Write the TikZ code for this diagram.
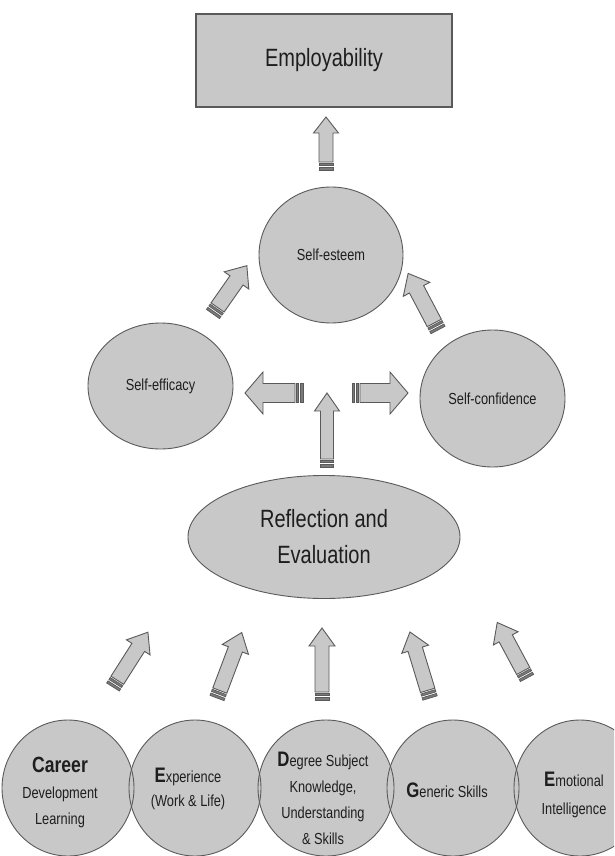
\documentclass[tikz,border=0pt]{standalone}
\usepackage{fontspec}
\setmainfont{Liberation Sans}[FakeStretch=0.8]
\usetikzlibrary{shapes.geometric}
\definecolor{shade}{HTML}{C8C8C8}
\definecolor{edge}{HTML}{5A5A5A}
\definecolor{ink}{HTML}{1E1E1E}
\definecolor{barfill}{HTML}{7A7A7A}
\newcommand{\bigi}{\fontsize{21}{26}\selectfont\bfseries}
\tikzset{
  fa shaft/.store in=\fashaft, fa head/.store in=\fahead, fa hlen/.store in=\fahlen,
  fa shaft=7, fa head=12.5, fa hlen=16,
  fatarrow/.pic={
    \coordinate (-tail) at (0,0);
    \coordinate (-tip) at (#1,0);
    \filldraw[fill=shade,draw=edge,line width=0.9pt,line join=miter]
      (8,-\fashaft) -- ({#1-\fahlen},-\fashaft) -- ({#1-\fahlen},-\fahead) -- (#1,0)
      -- ({#1-\fahlen},\fahead) -- ({#1-\fahlen},\fashaft) -- (8,\fashaft) -- cycle;
    \filldraw[fill=barfill,draw=edge,line width=0.7pt] (0,-\fashaft) rectangle (2.5,\fashaft);
    \filldraw[fill=barfill,draw=edge,line width=0.7pt] (4.2,-\fashaft) rectangle (6.5,\fashaft);
  },
  bubble/.style={ellipse, fill=shade, draw=edge, line width=0.9pt, inner sep=0pt, text=ink, align=center},
  bubblefill/.style={ellipse, fill=shade, inner sep=0pt},
  txt/.style={text=ink, align=center, inner sep=0pt},
}
\begin{document}
\begin{tikzpicture}[x=1pt,y=-1pt]
\useasboundingbox (0,0) rectangle (614,856);
\clip (0,0) rectangle (614,856);
\fill[white] (0,0) rectangle (614,856);

% top box
\node[draw=edge, fill=shade, line width=1.2pt, minimum width=256pt, minimum height=93pt,
      text=ink, font=\fontsize{25}{30}\selectfont] (emp) at (324,60.5) {Employability};

% middle ellipses
\node[bubble, minimum width=144pt, minimum height=136pt, font=\fontsize{16}{20}\selectfont] (esteem) at (331,255) {Self-esteem};
\node[bubble, minimum width=145pt, minimum height=126pt, font=\fontsize{16}{20}\selectfont] (efficacy) at (160.5,386) {Self-efficacy};
\node[bubble, minimum width=145pt, minimum height=137pt, font=\fontsize{16}{20}\selectfont] (confidence) at (492.5,398.5) {Self-confidence};
\node[bubble, minimum width=272pt, minimum height=123pt, font=\fontsize{25}{36}\selectfont] (refl) at (324,537) {Reflection and\\Evaluation};

% block arrows
\pic[rotate=90, fa shaft=7, fa head=12.5, fa hlen=16] (a0) at (326,170) {fatarrow=53};
\pic[rotate=55, fa shaft=8, fa head=15, fa hlen=18] (a1) at (213,314) {fatarrow=59};
\pic[rotate=117.8, fa shaft=8, fa head=15, fa hlen=18] (a2) at (438,330) {fatarrow=64};
\pic[rotate=180, fa shaft=9.5, fa head=21, fa hlen=18] (a3) at (303,393) {fatarrow=58};
\pic[rotate=0, fa shaft=9.5, fa head=21, fa hlen=18] (a4) at (352,393) {fatarrow=56};
\pic[rotate=90, fa shaft=6.5, fa head=12.5, fa hlen=18] (a5) at (327,467) {fatarrow=74};

\pic[rotate=57.5, fa shaft=7.5, fa head=14, fa hlen=18] (b1) at (113,687) {fatarrow=65};
\pic[rotate=69.3, fa shaft=7.5, fa head=14, fa hlen=18] (b2) at (217,698) {fatarrow=70};
\pic[rotate=90, fa shaft=7, fa head=13, fa hlen=18] (b3) at (322,700) {fatarrow=72};
\pic[rotate=106.9, fa shaft=7.5, fa head=14, fa hlen=18] (b4) at (430,698) {fatarrow=69};
\pic[rotate=118.2, fa shaft=7.5, fa head=14, fa hlen=18] (b5) at (527,678) {fatarrow=63};

% bottom circles
\node[bubblefill, minimum width=132pt, minimum height=136pt] (c1) at (68,788) {};
\node[bubblefill, minimum width=132pt, minimum height=136pt] (c2) at (195,788) {};
\node[bubblefill, minimum width=136pt, minimum height=136pt] (c3) at (326,788) {};
\node[bubblefill, minimum width=132pt, minimum height=136pt] (c4) at (453,788) {};
\node[bubblefill, minimum width=132pt, minimum height=136pt] (c5) at (580,788) {};
\foreach \i/\r in {1/66,2/66,3/68,4/66,5/66}
  \draw[draw=edge, line width=0.9pt] (c\i.center) ellipse [x radius=\r pt, y radius=68pt];

\node[txt, font=\fontsize{16}{26}\selectfont] (t1) at (60,792)
  {{\fontsize{22}{26}\selectfont\bfseries Career}\\Development\\Learning};
\node[txt, font=\fontsize{16}{24}\selectfont] (t2) at (188,789)
  {{\bigi E}xperience\\(Work \& Life)};
\node[txt, font=\fontsize{16}{26}\selectfont] (t3) at (323,798)
  {{\bigi D}egree Subject\\Knowledge,\\Understanding\\\& Skills};
\node[txt, font=\fontsize{16}{24}\selectfont] (t4) at (447,790)
  {{\bigi G}eneric Skills};
\node[txt, font=\fontsize{16}{28}\selectfont] (t5) at (574,795)
  {{\bigi E}motional\\Intelligence};
\end{tikzpicture}
\end{document}
